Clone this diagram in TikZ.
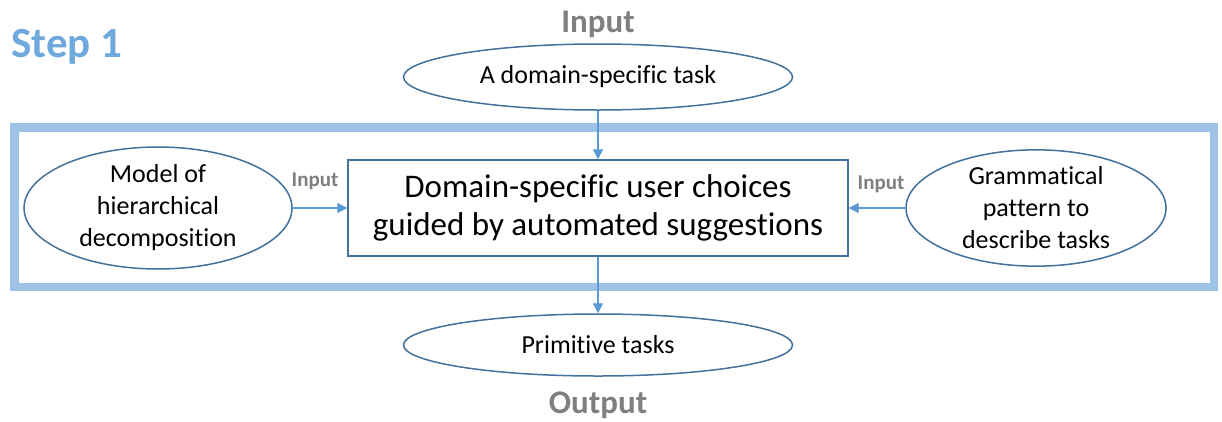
\documentclass[tikz,border=0pt]{standalone}
\usepackage{fontspec}
\setmainfont{Carlito}[Ligatures=NoCommon]
\usetikzlibrary{shapes.geometric,arrows.meta}

\definecolor{framebl}{RGB}{157,195,230}
\definecolor{edgebl}{RGB}{65,113,156}
\definecolor{arrowbl}{RGB}{91,155,213}
\definecolor{stepbl}{RGB}{111,168,220}
\definecolor{labgray}{RGB}{127,127,127}

\newcommand*{\midx}{598}
\newcommand*{\rowy}{208}

\begin{document}
\begin{tikzpicture}
[
	x=1pt,
	y=-1pt,
	oval/.style={ellipse,draw=edgebl,line width=1.5pt,inner sep=0pt,align=center,font=\fontsize{26}{32}\selectfont},
	taskbox/.style={rectangle,draw=edgebl,line width=1.3pt,inner sep=0pt,minimum width=500pt,minimum height=96pt,align=center,font=\fontsize{33}{38}\selectfont},
	flow/.style={-{Triangle[length=10pt,width=10pt]},draw=arrowbl,line width=1.2pt},
	biglabel/.style={text=labgray,font=\bfseries\fontsize{33}{38}\selectfont},
	smalllabel/.style={text=labgray,font=\bfseries\fontsize{21}{24}\selectfont}
]

	\useasboundingbox (0,0) rectangle (1222,421);

	% step frame
	\draw[framebl,line width=8.5pt] (14.5,127.5) rectangle (1214,287);
	\node[anchor=base west,text=stepbl,font=\bfseries\fontsize{43}{48}\selectfont] at (8,57) (step) {Step 1};

	% top and bottom labels
	\node[biglabel,anchor=base] at (\midx,32) (intop) {Input};
	\node[biglabel,anchor=base] at (\midx,413) (outbot) {Output};

	% ovals
	\node[oval,minimum width=389pt,minimum height=66pt] at (\midx,77) (task) {A domain-specific task};
	\node[oval,minimum width=268pt,minimum height=98pt] at (158,\rowy) (model) {Model of\\hierarchical\\decomposition};
	\node[oval,minimum width=260pt,minimum height=97pt] at (1036,\rowy) (grammar) {Grammatical\\pattern to\\describe tasks};
	\node[oval,minimum width=389pt,minimum height=62pt] at (\midx,345) (prim) {Primitive tasks};

	% central box
	\node[taskbox] at (\midx,\rowy) (choice) {Domain-specific user choices\\guided by automated suggestions};

	% side labels
	\node[smalllabel,anchor=base] at (315,186) (inleft) {Input};
	\node[smalllabel,anchor=base] at (881,189) (inright) {Input};

	% connectors
	\draw[flow] (task) -- (choice);
	\draw[flow] (model) -- (choice);
	\draw[flow] (grammar) -- (choice);
	\draw[flow] (choice) -- (prim);

\end{tikzpicture}
\end{document}
